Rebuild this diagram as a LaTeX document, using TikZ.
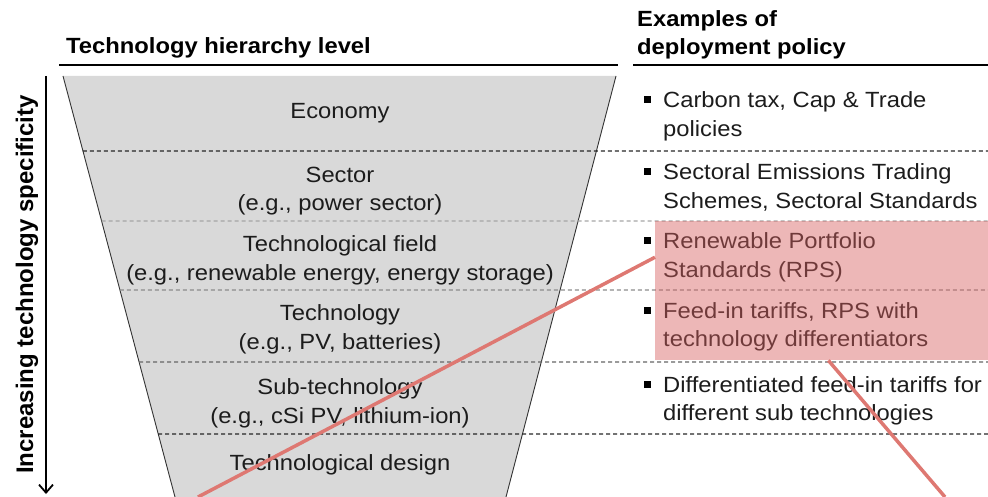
\documentclass[tikz,border=0pt]{standalone}
\usepackage{fontspec}
\setmainfont{Liberation Sans}
\newfontfamily\widefont{Liberation Sans}[FakeStretch=1.08]
\usetikzlibrary{arrows.meta,calc}
\definecolor{funnelgray}{RGB}{217,217,217}
\definecolor{hlred}{RGB}{214,96,96}
\definecolor{linered}{RGB}{222,120,114}
\definecolor{txt}{RGB}{28,28,28}
\begin{document}
\begin{tikzpicture}[x=1pt,y=-1pt,
  lvl/.style={font=\widefont\fontsize{22}{28.5}\selectfont, text=txt, inner sep=0pt, align=center, anchor=base},
  pol/.style={font=\widefont\fontsize{22}{28.5}\selectfont, text=txt, inner sep=0pt, align=left, anchor=base west},
  head/.style={font=\widefont\bfseries\fontsize{22}{28.5}\selectfont, inner sep=0pt, align=left, anchor=base west},
  bul/.style={fill=black, minimum size=7pt, inner sep=0pt},
  sepline/.style={dash pattern=on 4pt off 3pt, line width=1.1pt},
  redline/.style={draw=linered, line width=3.5pt},
  rule/.style={line width=1.8pt}
]
\useasboundingbox (0,0) rectangle (988,497);
% headers (anchor base = baseline of last line)
\node[head] (hl1) at (66,54) {Technology hierarchy level};
\node[head] (hr1) at (637,55) {Examples of\\deployment policy};
\coordinate (rl1) at (59,65); \coordinate (rl2) at (618,65);
\coordinate (rr1) at (633,65); \coordinate (rr2) at (988,65);
\draw[rule] (rl1) -- (rl2);
\draw[rule] (rr1) -- (rr2);
% funnel
\coordinate (TL) at (63,76); \coordinate (TR) at (616,76);
\coordinate (BL) at (175,497); \coordinate (BR) at (506,497);
\fill[funnelgray] (TL) -- (TR) -- (BR) -- (BL) -- cycle;
\draw[line width=0.9pt, black!80] (TL) -- (BL);
\draw[line width=0.9pt, black!80] (TR) -- (BR);
% separators
\coordinate (e1) at (988,151); \coordinate (e2) at (988,221);
\coordinate (e3) at (988,290); \coordinate (e4) at (988,362);
\coordinate (e5) at (988,434);
\draw[sepline, black!85] ($(TL)!{(151-76)/421}!(BL)$) -- (e1);
\draw[sepline, black!35] ($(TL)!{(221-76)/421}!(BL)$) -- (e2);
\draw[sepline, black!45] ($(TL)!{(290-76)/421}!(BL)$) -- (e3);
\draw[sepline, black!60] ($(TL)!{(362-76)/421}!(BL)$) -- (e4);
\draw[sepline, black!85] ($(TL)!{(434-76)/421}!(BL)$) -- (e5);
% vertical arrow
\coordinate (arrtop) at (46,76); \coordinate (arrbot) at (46,494);
\draw[line width=1.8pt, -{Straight Barb[length=8pt,width=14pt,line width=1.8pt]}] (arrtop) -- (arrbot);
\node[rotate=90, anchor=base west, inner sep=0pt, font=\bfseries\fontsize{24}{28}\selectfont] (vlab) at (33,474) {Increasing technology specificity};
% levels
\node[lvl] (economy) at (340,119) {Economy};
\node[lvl] (sector) at (340,211) {Sector\\(e.g., power sector)};
\node[lvl] (field) at (340,280) {Technological field\\(e.g., renewable energy, energy storage)};
\node[lvl] (tech) at (340,349) {Technology\\(e.g., PV, batteries)};
\node[lvl] (subtech) at (340,423) {Sub-technology\\(e.g., cSi PV, lithium-ion)};
\node[lvl] (design) at (340,470) {Technological design};
% policies
\node[pol] (p1) at (663,136.5) {Carbon tax, Cap \& Trade\\policies};
\node[pol] (p2) at (663,208.5) {Sectoral Emissions Trading\\Schemes, Sectoral Standards};
\node[pol] (p3) at (663,277) {Renewable Portfolio\\Standards (RPS)};
\node[pol] (p4) at (663,346.5) {Feed-in tariffs, RPS with\\technology differentiators};
\node[pol] (p5) at (663,420.5) {Differentiated feed-in tariffs for\\different sub technologies};
\foreach \p in {p1,p2,p3,p4,p5}{
  \node[bul] (b\p) at ($(\p.base west)+(-16,-36.5)$) {};
}
% highlight
\node[fill=hlred, fill opacity=0.45, minimum width=333pt, minimum height=139pt, inner sep=0pt, anchor=north west] (hl) at (655,221) {};
% red lines
\coordinate (r1b) at (198,497);
\coordinate (r2b) at (945,497);
\draw[redline] ($(hl.north west)!0.26!(hl.south west)$) -- (r1b);
\draw[redline] ($(hl.south west)!0.52!(hl.south east)$) -- (r2b);
\end{tikzpicture}
\end{document}
